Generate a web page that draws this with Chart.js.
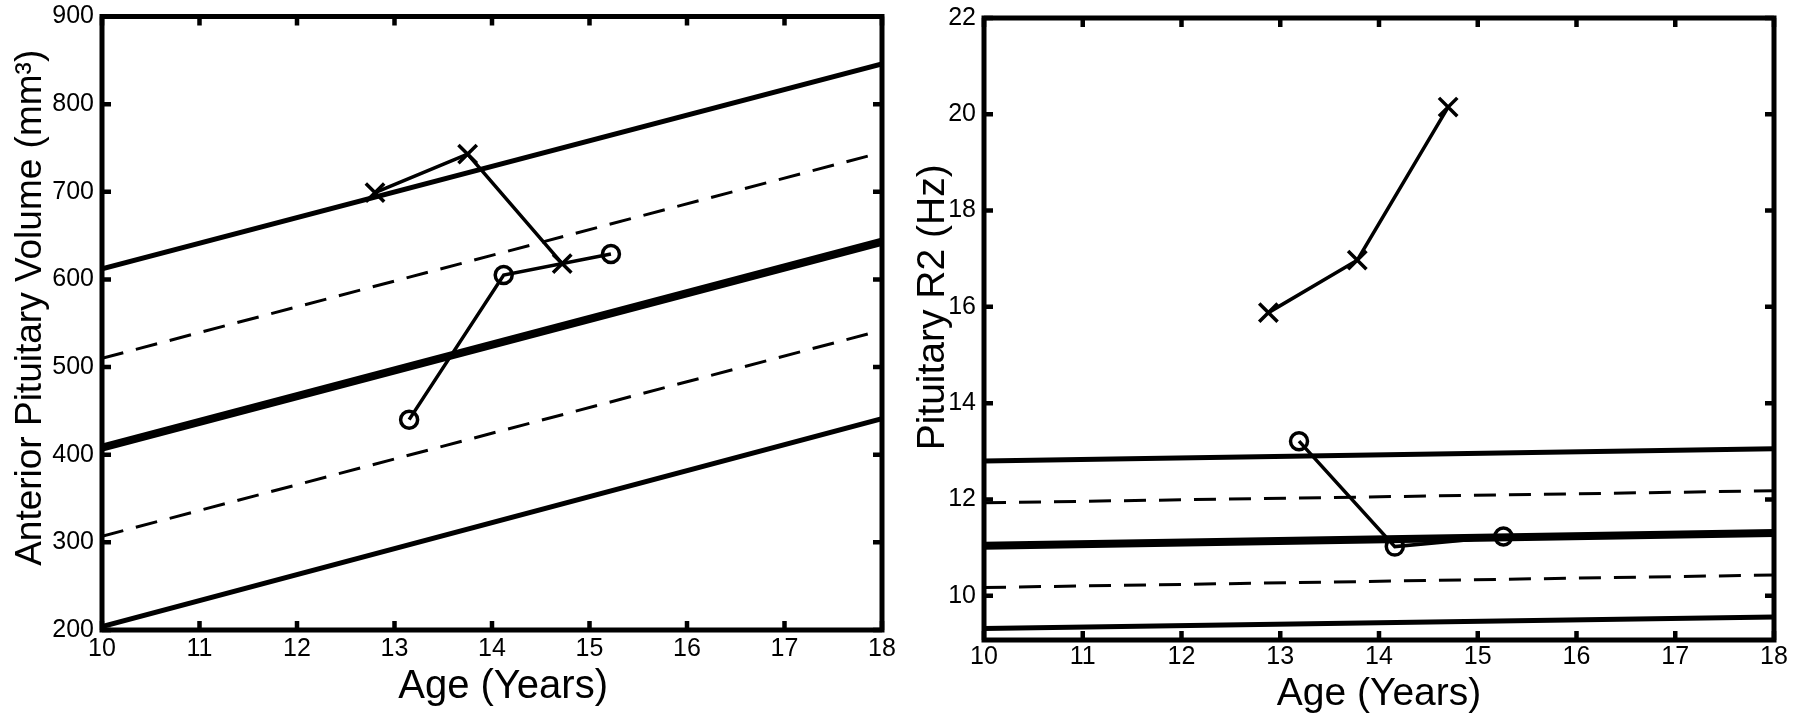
<!DOCTYPE html>
<html>
<head>
<meta charset="utf-8">
<script src="https://cdn.jsdelivr.net/npm/chart.js@4.4.1/dist/chart.umd.min.js"></script>
<style>
  html, body { margin: 0; padding: 0; background: #fff; }
  #wrap { position: relative; width: 1800px; height: 714px; overflow: hidden; }
  canvas { position: absolute; top: 0; }
</style>
</head>
<body>
<div id="wrap">
  <canvas id="volChart" width="920" height="714" style="left:0px"></canvas>
  <canvas id="r2Chart" width="920" height="714" style="left:880px"></canvas>
</div>
<script>
// x range of the normative bands
const bandAges = [10, 18];
const ageTicks = [10, 11, 12, 13, 14, 15, 16, 17, 18];

// left panel: anterior pituitary volume (mm3)
const volTicks = [200, 300, 400, 500, 600, 700, 800, 900];
const volUpper = [612, 846];
const volUpperDash = [510, 745];
const volMean = [408, 643];
const volLowerDash = [307, 542];
const volLower = [204, 441];
const volCrossAges = [12.8, 13.75, 14.72];
const volCross = [699, 743, 618];
const volCircleAges = [13.15, 14.12, 15.22];
const volCircle = [440, 605, 629];

// right panel: pituitary R2 (Hz)
const r2Ticks = [10, 12, 14, 16, 18, 20, 22];
const r2Upper = [12.8, 13.05];
const r2UpperDash = [11.93, 12.18];
const r2Mean = [11.04, 11.3];
const r2LowerDash = [10.17, 10.43];
const r2Lower = [9.32, 9.56];
const r2CrossAges = [12.88, 13.78, 14.7];
const r2Cross = [15.88, 16.97, 20.15];
const r2CircleAges = [13.19, 14.16, 15.26];
const r2Circle = [13.21, 11.02, 11.23];

const FONT = '"Liberation Sans", Arial, Helvetica, sans-serif';
const tickFont = { family: FONT, size: 25, lineHeight: 1.2 };

const pts = (xs, ys) => xs.map((x, i) => ({ x: x, y: ys[i] }));

function band(ys, width, dashed) {
  return {
    data: pts(bandAges, ys), showLine: true, pointRadius: 0,
    borderColor: '#000', borderWidth: width, borderDash: dashed ? [22, 13] : []
  };
}

function visits(xs, ys, style) {
  return {
    data: pts(xs, ys), showLine: true, borderColor: '#000', borderWidth: 3.5,
    pointStyle: style, pointRadius: style === 'circle' ? 8.5 : 13,
    pointBorderWidth: 3.5, pointBorderColor: '#000', pointBackgroundColor: 'rgba(0,0,0,0)'
  };
}

// black box round the plot with inward ticks on all sides
const frameTicks = {
  id: 'frameTicks',
  afterDatasetsDraw(chart) {
    const { ctx, chartArea: a, scales: { x, y } } = chart;
    ctx.save();
    ctx.strokeStyle = '#000';
    ctx.lineCap = 'butt';
    ctx.lineWidth = 4.5;
    ctx.beginPath();
    x.ticks.forEach(t => {
      const px = x.getPixelForValue(t.value);
      ctx.moveTo(px, a.bottom); ctx.lineTo(px, a.bottom - 9);
      ctx.moveTo(px, a.top); ctx.lineTo(px, a.top + 9);
    });
    y.ticks.forEach(t => {
      const py = y.getPixelForValue(t.value);
      ctx.moveTo(a.left, py); ctx.lineTo(a.left + 9, py);
      ctx.moveTo(a.right, py); ctx.lineTo(a.right - 9, py);
    });
    ctx.stroke();
    ctx.lineWidth = 5;
    ctx.lineJoin = 'miter';
    ctx.strokeRect(a.left, a.top, a.right - a.left, a.bottom - a.top);
    ctx.restore();
  }
};

function makePanel(id, p) {
  return new Chart(document.getElementById(id), {
    type: 'scatter',
    data: { datasets: p.datasets },
    options: {
      responsive: false, animation: false, events: [], devicePixelRatio: 1,
      layout: { padding: p.pad },
      plugins: { legend: { display: false }, tooltip: { enabled: false } },
      scales: {
        x: {
          type: 'linear', min: 10, max: 18,
          afterBuildTicks: s => { s.ticks = ageTicks.map(v => ({ value: v })); },
          afterFit: s => { s.height = p.xHeight; s.paddingLeft = 0; s.paddingRight = 0; },
          grid: { display: false, drawTicks: false }, border: { display: false },
          ticks: { color: '#000', font: tickFont, padding: p.xPad, maxRotation: 0, autoSkip: false },
          title: { display: true, text: p.xTitle, color: '#000', padding: 0,
                   font: { family: FONT, size: p.xTitleSize, lineHeight: 1 } }
        },
        y: {
          type: 'linear', min: p.yMin, max: p.yMax,
          afterBuildTicks: s => { s.ticks = p.yTicks.map(v => ({ value: v })); },
          afterFit: s => { s.width = p.yWidth; s.paddingTop = 0; s.paddingBottom = 0; },
          grid: { display: false, drawTicks: false }, border: { display: false },
          ticks: { color: '#000', font: tickFont, padding: 8, autoSkip: false },
          title: { display: true, text: p.yTitle, color: '#000', padding: 0,
                   font: { family: FONT, size: p.yTitleSize, lineHeight: 1 } }
        }
      }
    },
    plugins: [frameTicks]
  });
}

makePanel('volChart', {
  yMin: 200, yMax: 900, yTicks: volTicks,
  yTitle: '   Anterior Pituitary Volume (mm\u00B3)', yTitleSize: 37,
  xTitle: '  Age (Years)', xTitleSize: 40, xPad: 4.5,
  pad: { left: 12.5, right: 38, top: 14, bottom: 7 },
  yWidth: 89.5, xHeight: 77,
  datasets: [
    visits(volCrossAges, volCross, 'crossRot'),
    visits(volCircleAges, volCircle, 'circle'),
    band(volUpper, 5, false),
    band(volUpperDash, 3, true),
    band(volMean, 8, false),
    band(volLowerDash, 3, true),
    band(volLower, 5, false)
  ]
});

makePanel('r2Chart', {
  yMin: 9.08, yMax: 22, yTicks: r2Ticks,
  yTitle: '    Pituitary R2 (Hz)', yTitleSize: 39,
  xTitle: 'Age (Years)', xTitleSize: 39, xPad: 2.5,
  pad: { left: 33.5, right: 26, top: 18, bottom: 0 },
  yWidth: 70.5, xHeight: 74,
  datasets: [
    visits(r2CrossAges, r2Cross, 'crossRot'),
    visits(r2CircleAges, r2Circle, 'circle'),
    band(r2Upper, 5, false),
    band(r2UpperDash, 3, true),
    band(r2Mean, 8, false),
    band(r2LowerDash, 3, true),
    band(r2Lower, 5, false)
  ]
});
</script>
</body>
</html>
